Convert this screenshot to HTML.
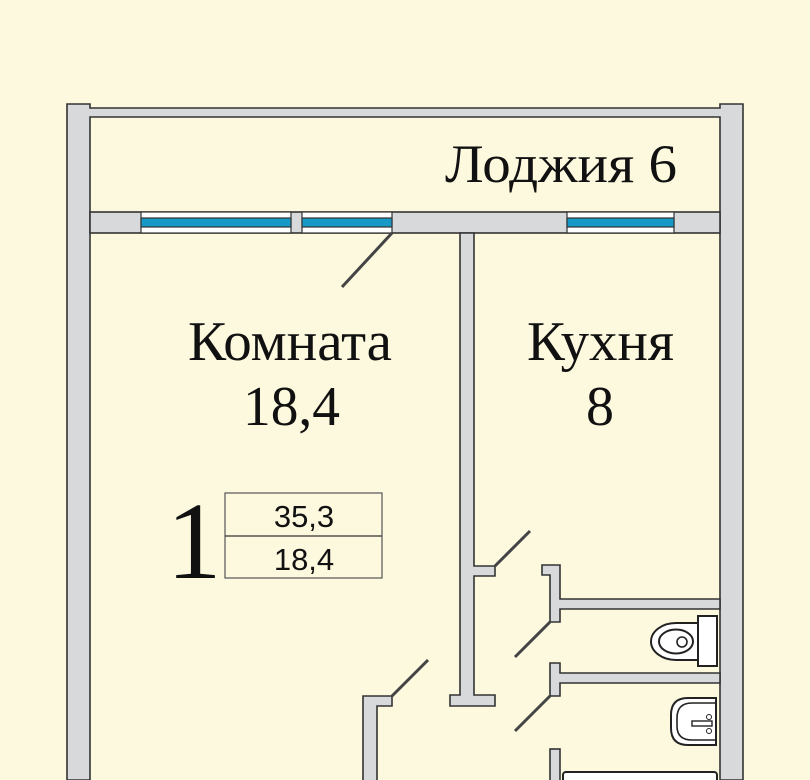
<!DOCTYPE html>
<html><head><meta charset="utf-8"><style>
html,body{margin:0;padding:0;background:#fdf9df;}
svg{display:block}
.w{fill:#d7d9da;stroke:#333;stroke-width:1.6}
.d{stroke:#444;stroke-width:3;fill:none}
.serif{font-family:"Liberation Serif",serif;fill:#111}
.sans{font-family:"Liberation Sans",sans-serif;fill:#111}
</style></head><body>
<svg width="810" height="780" viewBox="0 0 810 780" xmlns="http://www.w3.org/2000/svg">
<rect width="810" height="780" fill="#fdf9df"/>
<path class="w" d="M67,104 H90 V108 H720 V104 H743 V780 H720 V117 H90 V780 H67 Z"/>
<rect class="w" x="90" y="212" width="630" height="21"/>
<g stroke="#333" stroke-width="1.2">
<rect x="141" y="212" width="150" height="21" fill="#fff"/>
<rect x="141" y="218" width="150" height="9" fill="#1699c6"/>
<rect x="302" y="212" width="90" height="21" fill="#fff"/>
<rect x="302" y="218" width="90" height="9" fill="#1699c6"/>
<rect x="567" y="212" width="107" height="21" fill="#fff"/>
<rect x="567" y="218" width="107" height="9" fill="#1699c6"/>
</g>
<path class="w" d="M460,233 H474 V566 H495 V576 H474 V695 H495 V706 H450 V695 H460 Z"/>
<path class="w" d="M542,565 H560 V599 H720 V609 H560 V622 H550 V575 H542 Z"/>
<path class="w" d="M550,663 H560 V673 H720 V683 H560 V696 H550 Z"/>
<rect class="w" x="550" y="749" width="10" height="40"/>
<path class="w" d="M363,696 H392 V706 H377 V790 H363 Z"/>
<rect x="563" y="772" width="154" height="30" rx="3" fill="#fff" stroke="#222" stroke-width="2"/>
<line class="d" x1="392" y1="233" x2="342" y2="287"/>
<line class="d" x1="495" y1="566" x2="530" y2="531"/>
<line class="d" x1="550" y1="622" x2="515" y2="657"/>
<line class="d" x1="550" y1="696" x2="515" y2="731"/>
<line class="d" x1="392" y1="696" x2="428" y2="660"/>
<!-- toilet -->
<rect x="698" y="616" width="19" height="50" fill="#fff" stroke="#222" stroke-width="2"/>
<path d="M698,623 H676 A25,18.5 0 0 0 676,660 H698 Z" fill="#fff" stroke="#222" stroke-width="2"/>
<ellipse cx="676" cy="641.5" rx="17" ry="12" fill="none" stroke="#222" stroke-width="2"/>
<circle cx="682" cy="642" r="5" fill="none" stroke="#222" stroke-width="1.6"/>
<!-- sink -->
<path d="M716,698 H688 Q671,698 671,715 V728 Q671,745 688,745 H716 Z" fill="#fff" stroke="#222" stroke-width="2"/>
<path d="M716,703 H692 Q677,703 677,718 V726 Q677,740 692,740 H716" fill="none" stroke="#222" stroke-width="1.6"/>
<rect x="692" y="721" width="20" height="5" fill="#fff" stroke="#222" stroke-width="1.4"/>
<circle cx="709" cy="717" r="2.5" fill="none" stroke="#222" stroke-width="1"/>
<circle cx="709" cy="731" r="2.5" fill="none" stroke="#222" stroke-width="1"/>
<!-- labels -->
<text class="serif" x="445" y="182" font-size="54" textLength="232" lengthAdjust="spacingAndGlyphs">Лоджия 6</text>
<text class="serif" x="188" y="360" font-size="56" textLength="204" lengthAdjust="spacingAndGlyphs">Комната</text>
<text class="serif" x="243" y="425" font-size="56" textLength="97" lengthAdjust="spacingAndGlyphs">18,4</text>
<text class="serif" x="527" y="360" font-size="56" textLength="147" lengthAdjust="spacingAndGlyphs">Кухня</text>
<text class="serif" x="600" y="425" font-size="56" text-anchor="middle">8</text>
<text class="serif" x="194" y="578" font-size="110" text-anchor="middle">1</text>
<rect x="225" y="493" width="157" height="85" fill="none" stroke="#555" stroke-width="1.2"/>
<line x1="225" y1="536" x2="382" y2="536" stroke="#333" stroke-width="1.2"/>
<text class="sans" x="304" y="527" font-size="31" text-anchor="middle">35,3</text>
<text class="sans" x="304" y="570" font-size="31" text-anchor="middle">18,4</text>
</svg>
</body></html>
